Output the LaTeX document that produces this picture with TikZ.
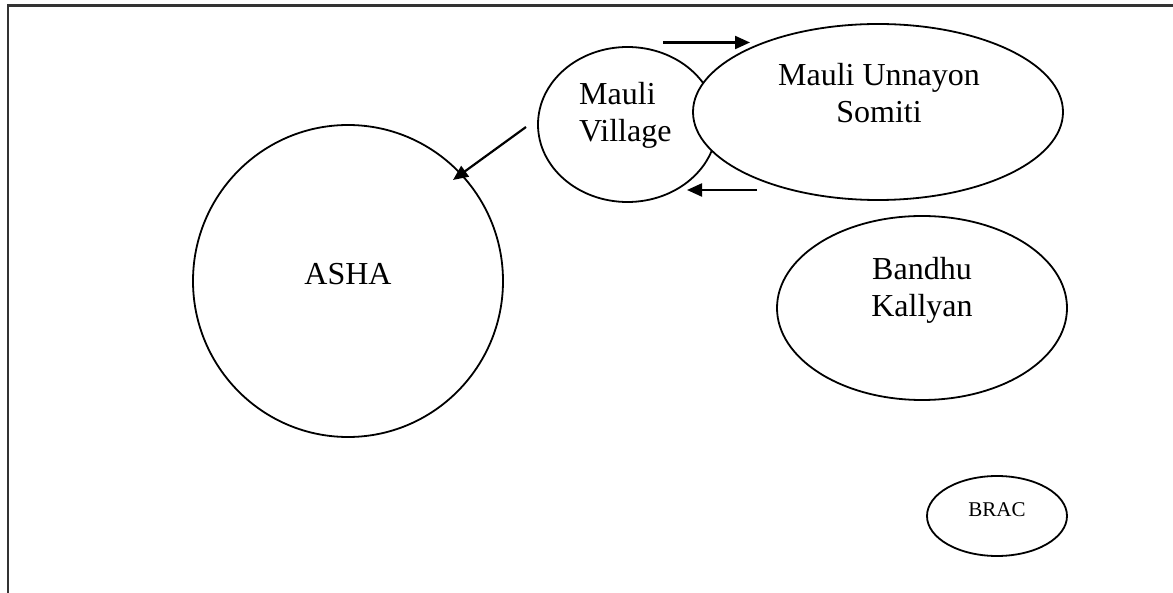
\documentclass[tikz,border=0pt]{standalone}
\usepackage{fontspec}
\setmainfont{Liberation Serif}
\usetikzlibrary{shapes.geometric,arrows.meta}
\begin{document}
\begin{tikzpicture}[x=1pt,y=-1pt,
  shp/.style={draw, ellipse, line width=1.8pt, inner sep=0pt, fill=white},
  lbl/.style={font=\fontsize{32}{37}\selectfont, inner sep=0pt},
  arr/.style={-{Triangle[length=15pt,width=13pt]}, line width=2.2pt}]
\useasboundingbox (0,0) rectangle (1173,593);
\draw[line width=2.2pt, black!80] (8,593) -- (8,5.5) -- (1173,5.5);
% shapes
\node[shp, minimum width=310pt, minimum height=312pt] (asha) at (348,281) {};
\node[shp, minimum width=179pt, minimum height=155pt] (mv) at (627.5,124.5) {};
\node[shp, minimum width=370pt, minimum height=176pt] (mus) at (878,112) {};
\node[shp, minimum width=290pt, minimum height=184pt] (bk) at (922,308) {};
\node[shp, minimum width=140pt, minimum height=80pt] (brac) at (997,516) {};
% texts
\node[lbl, anchor=base] (ashat) at (348,285) {ASHA};
\node[lbl, anchor=base west, align=left] (mvt) at (579,142) {Mauli\\Village};
\node[lbl, anchor=base, align=center] (must) at (879,123) {Mauli Unnayon\\Somiti};
\node[lbl, anchor=base, align=center] (bkt) at (922,317) {Bandhu\\Kallyan};
\node[inner sep=0pt, font=\fontsize{21}{25}\selectfont, anchor=base] (bract) at (997,516.5) {BRAC};
% arrows
\coordinate (a1s) at (663,42.5);
\coordinate (a1e) at (750,42.5);
\coordinate (a2s) at (757,190);
\coordinate (a2e) at (687,190);
\coordinate (a3s) at (526,127);
\coordinate (a3e) at (453,180);
\draw[arr] (a1s) -- (a1e);
\draw[arr] (a2s) -- (a2e);
\draw[arr] (a3s) -- (a3e);
\end{tikzpicture}
\end{document}
